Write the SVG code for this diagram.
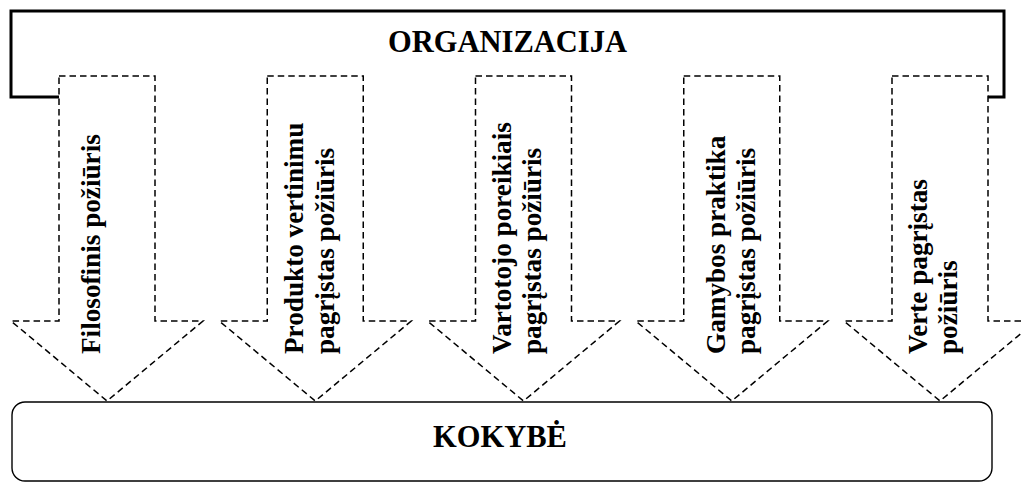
<svg xmlns="http://www.w3.org/2000/svg" width="1023" height="483" viewBox="0 0 1023 483">
  <style>
    .title { font-family: "Liberation Serif", "Times New Roman", serif; font-weight: bold; font-size: 30.5px; fill: #000; text-anchor: middle; }
    .lbl { font-family: "Liberation Serif", "Times New Roman", serif; font-weight: bold; font-size: 27.2px; fill: #000; }
    .arrow { fill: #fff; stroke: #000; stroke-width: 1.5; stroke-dasharray: 6.5 4; stroke-linejoin: miter; }
  </style>
  <rect width="1023" height="483" fill="#fff"/>

  <!-- Organisation bracket -->
  <g id="organizacija">
    <path d="M59,97 H11 V11 H1004 V97 H988" fill="none" stroke="#000" stroke-width="3"/>
    <text class="title" x="507.5" y="52">ORGANIZACIJA</text>
  </g>

  <!-- Quality box -->
  <g id="kokybe">
    <rect x="12" y="402" width="980" height="79" rx="13" ry="13" fill="#fff" stroke="#000" stroke-width="1.4"/>
    <text class="title" x="500" y="447">KOKYBĖ</text>
  </g>

  <!-- Approach arrows from organisation to quality -->
  <g id="connectors">
    <g id="a1">
      <polygon class="arrow" points="59,76 155,76 155,321 203,321 107,401 11,321 59,321"/>
    </g>
    <g id="a2">
      <polygon class="arrow" points="267.25,76 363.25,76 363.25,321 411.25,321 315.25,401 219.25,321 267.25,321"/>
    </g>
    <g id="a3">
      <polygon class="arrow" points="475.5,76 571.5,76 571.5,321 619.5,321 523.5,401 427.5,321 475.5,321"/>
    </g>
    <g id="a4">
      <polygon class="arrow" points="683.75,76 779.75,76 779.75,321 827.75,321 731.75,401 635.75,321 683.75,321"/>
    </g>
    <g id="a5">
      <polygon class="arrow" points="892,76 988,76 988,321 1036,321 940,401 844,321 892,321"/>
    </g>
  </g>

  <!-- Rotated labels -->
  <g id="l1">
    <text class="lbl" transform="translate(100,354) rotate(-90)">Filosofinis požiūris</text>
  </g>
  <g id="l2">
    <text class="lbl" transform="translate(303,354) rotate(-90)">Produkto vertinimu</text>
    <text class="lbl" transform="translate(334,354) rotate(-90)">pagrįstas požiūris</text>
  </g>
  <g id="l3">
    <text class="lbl" transform="translate(511,354) rotate(-90)">Vartotojo poreikiais</text>
    <text class="lbl" transform="translate(541,354) rotate(-90)">pagrįstas požiūris</text>
  </g>
  <g id="l4">
    <text class="lbl" transform="translate(725,354) rotate(-90)">Gamybos praktika</text>
    <text class="lbl" transform="translate(755,354) rotate(-90)">pagrįstas požiūris</text>
  </g>
  <g id="l5">
    <text class="lbl" transform="translate(927,354) rotate(-90)">Verte pagrįstas</text>
    <text class="lbl" transform="translate(957,354) rotate(-90)">požiūris</text>
  </g>
</svg>
